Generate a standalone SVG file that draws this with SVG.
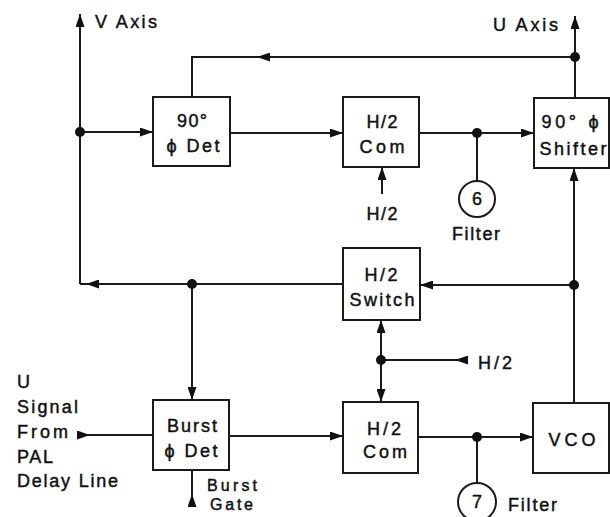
<svg xmlns="http://www.w3.org/2000/svg" width="610" height="517" viewBox="0 0 610 517">
<style>
  .box { fill: #fff; stroke: #1a1a1a; stroke-width: 2; }
  .ln { fill: none; stroke: #1a1a1a; stroke-width: 2; }
  .dot { fill: #111; }
  .t { font-family: "Liberation Sans", Arial, sans-serif; font-size: 18px; fill: #111; stroke: #111; stroke-width: 0.45; }
  .s { font-size: 16px; }
  .c { text-anchor: middle; }
</style>
<defs>
  <marker id="ah" viewBox="0 0 13 9" refX="13" refY="4.5" markerWidth="13" markerHeight="9" markerUnits="userSpaceOnUse" orient="auto">
    <path d="M0,0 L13,4.5 L0,9 z" fill="#111"/>
  </marker>
  <marker id="at" viewBox="0 0 13 9" refX="0" refY="4.5" markerWidth="13" markerHeight="9" markerUnits="userSpaceOnUse" orient="auto">
    <path d="M0,0 L13,4.5 L0,9 z" fill="#111"/>
  </marker>
</defs>

<g id="connectors">
  <path class="ln" d="M80,284 L80,14" marker-end="url(#ah)"/>
  <path class="ln" d="M80,132 L153,132" marker-end="url(#ah)"/>
  <path class="ln" d="M230,133 L343,133" marker-end="url(#ah)"/>
  <path class="ln" d="M419,133 L534,133" marker-end="url(#ah)"/>
  <path class="ln" d="M477,133 L477,181"/>
  <path class="ln" d="M382,194 L382,167" marker-end="url(#ah)"/>
  <path class="ln" d="M575,57 L257,57" marker-end="url(#ah)"/>
  <path class="ln" d="M257,57 L192,57 L192,97"/>
  <path class="ln" d="M575,98 L575,16" marker-end="url(#ah)"/>
  <path class="ln" d="M574,403 L574,168" marker-end="url(#ah)"/>
  <path class="ln" d="M574,285 L420,285" marker-end="url(#ah)"/>
  <path class="ln" d="M343,284 L86,284" marker-end="url(#ah)"/>
  <path class="ln" d="M86,284 L80,284"/>
  <path class="ln" d="M192,284 L192,400" marker-end="url(#ah)"/>
  <path class="ln" d="M381,360 L381,320" marker-end="url(#ah)"/>
  <path class="ln" d="M381,360 L381,402" marker-end="url(#ah)"/>
  <path class="ln" d="M468,360 L381,360" marker-start="url(#at)"/>
  <path class="ln" d="M77,435 L153,435" marker-start="url(#at)"/>
  <path class="ln" d="M229,436 L343,436" marker-end="url(#ah)"/>
  <path class="ln" d="M418,437 L533,437" marker-end="url(#ah)"/>
  <path class="ln" d="M477,437 L477,483"/>
  <path class="ln" d="M192,507 L192,470" marker-start="url(#at)"/>
  <circle class="dot" cx="80" cy="132" r="5"/>
  <circle class="dot" cx="477" cy="133" r="5"/>
  <circle class="dot" cx="575" cy="57" r="5"/>
  <circle class="dot" cx="574" cy="285" r="5"/>
  <circle class="dot" cx="192" cy="284" r="5"/>
  <circle class="dot" cx="381" cy="360" r="5"/>
  <circle class="dot" cx="477" cy="437" r="5"/>
</g>

<g id="det90">
  <rect class="box" x="153" y="97" width="77" height="69"/>
  <text class="t c" x="192" y="127" textLength="30">90°</text>
  <text class="t c" x="193" y="152" textLength="53">ϕ Det</text>
</g>
<g id="com-upper">
  <rect class="box" x="343" y="97" width="76" height="70"/>
  <text class="t c" x="382" y="128" textLength="31">H/2</text>
  <text class="t c" x="382" y="153" textLength="45">Com</text>
</g>
<g id="shifter">
  <rect class="box" x="534" y="98" width="75" height="70"/>
  <text class="t c" x="570" y="128" textLength="57">90° ϕ</text>
  <text class="t c" x="573" y="155" textLength="67">Shifter</text>
</g>
<g id="filter6">
  <circle class="box" cx="477" cy="199" r="18"/>
  <text class="t c" x="477" y="205">6</text>
  <text class="t c" x="476" y="240" textLength="48">Filter</text>
</g>
<g id="h2-upper-in">
  <text class="t c" x="382" y="220" textLength="31">H/2</text>
</g>
<g id="switch">
  <rect class="box" x="343" y="248" width="77" height="72"/>
  <text class="t c" x="381" y="281" textLength="33">H/2</text>
  <text class="t c" x="382" y="306" textLength="65">Switch</text>
</g>
<g id="h2-right-in">
  <text class="t" x="478" y="369" textLength="34">H/2</text>
</g>
<g id="u-signal">
  <text class="t" x="17" y="388">U</text>
  <text class="t" x="17" y="413" textLength="61">Signal</text>
  <text class="t" x="17" y="438" textLength="51">From</text>
  <text class="t" x="17" y="463" textLength="36">PAL</text>
  <text class="t" x="17" y="487" textLength="101">Delay Line</text>
</g>
<g id="burst-det">
  <rect class="box" x="153" y="400" width="76" height="70"/>
  <text class="t c" x="192" y="432" textLength="50">Burst</text>
  <text class="t c" x="191" y="457" textLength="53">ϕ Det</text>
</g>
<g id="burst-gate">
  <text class="t s" x="207" y="491" textLength="50">Burst</text>
  <text class="t s" x="210" y="510" textLength="43">Gate</text>
</g>
<g id="com-lower">
  <rect class="box" x="343" y="402" width="75" height="71"/>
  <text class="t c" x="384" y="435" textLength="34">H/2</text>
  <text class="t c" x="385" y="458" textLength="44">Com</text>
</g>
<g id="vco">
  <rect class="box" x="533" y="403" width="76" height="70"/>
  <text class="t c" x="572" y="446" textLength="47">VCO</text>
</g>
<g id="filter7">
  <circle class="box" cx="477" cy="502" r="19"/>
  <text class="t c" x="477" y="508">7</text>
  <text class="t" x="508" y="511" textLength="49">Filter</text>
</g>
<g id="axes-labels">
  <text class="t" x="95" y="28" textLength="62">V Axis</text>
  <text class="t" x="493" y="31" textLength="65">U Axis</text>
</g>
</svg>
